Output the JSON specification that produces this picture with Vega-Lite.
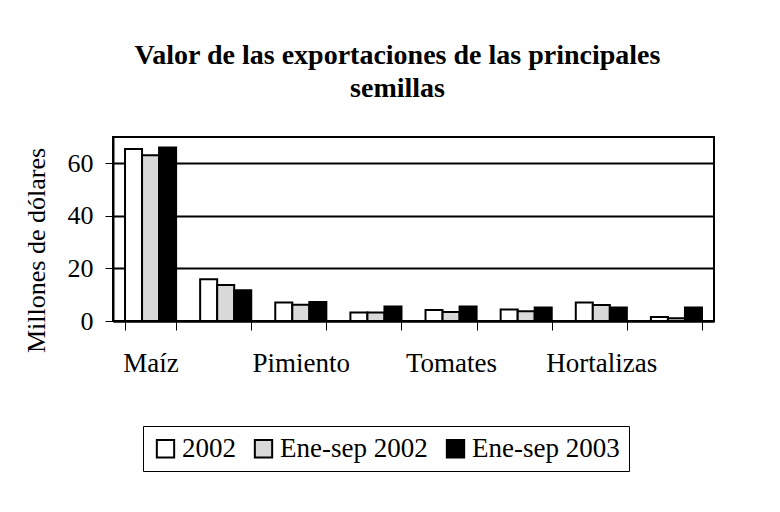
{
  "$schema": "https://vega.github.io/schema/vega-lite/v6.json",
  "width": 601,
  "height": 184,
  "autosize": {"type": "none"},
  "padding": {"left": 113, "top": 137, "right": 66, "bottom": 191},
  "background": "white",
  "title": {
    "text": ["Valor de las exportaciones de las principales", "semillas"],
    "font": "Liberation Serif",
    "fontSize": 28,
    "fontWeight": "bold",
    "color": "black",
    "lineHeight": 33,
    "anchor": "middle",
    "dx": -16,
    "offset": 34
  },
  "data": {
    "values": [
      {"cat": "Maíz", "serie": "2002", "valor": 65.4},
      {"cat": "Maíz", "serie": "Ene-sep 2002", "valor": 63.1},
      {"cat": "Maíz", "serie": "Ene-sep 2003", "valor": 66.0},
      {"cat": "Otra 1", "serie": "2002", "valor": 15.9},
      {"cat": "Otra 1", "serie": "Ene-sep 2002", "valor": 13.7},
      {"cat": "Otra 1", "serie": "Ene-sep 2003", "valor": 11.7},
      {"cat": "Pimiento", "serie": "2002", "valor": 7.0},
      {"cat": "Pimiento", "serie": "Ene-sep 2002", "valor": 6.2},
      {"cat": "Pimiento", "serie": "Ene-sep 2003", "valor": 7.2},
      {"cat": "Otra 2", "serie": "2002", "valor": 3.2},
      {"cat": "Otra 2", "serie": "Ene-sep 2002", "valor": 3.2},
      {"cat": "Otra 2", "serie": "Ene-sep 2003", "valor": 5.5},
      {"cat": "Tomates", "serie": "2002", "valor": 4.2},
      {"cat": "Tomates", "serie": "Ene-sep 2002", "valor": 3.4},
      {"cat": "Tomates", "serie": "Ene-sep 2003", "valor": 5.5},
      {"cat": "Otra 3", "serie": "2002", "valor": 4.4},
      {"cat": "Otra 3", "serie": "Ene-sep 2002", "valor": 3.7},
      {"cat": "Otra 3", "serie": "Ene-sep 2003", "valor": 5.1},
      {"cat": "Hortalizas", "serie": "2002", "valor": 7.0},
      {"cat": "Hortalizas", "serie": "Ene-sep 2002", "valor": 6.1},
      {"cat": "Hortalizas", "serie": "Ene-sep 2003", "valor": 5.1},
      {"cat": "Otra 4", "serie": "2002", "valor": 1.5},
      {"cat": "Otra 4", "serie": "Ene-sep 2002", "valor": 1.0},
      {"cat": "Otra 4", "serie": "Ene-sep 2003", "valor": 5.1}
    ]
  },
  "mark": {"type": "bar", "stroke": "black", "strokeWidth": 2},
  "encoding": {
    "x": {
      "field": "cat",
      "type": "nominal",
      "sort": null,
      "scale": {"paddingInner": 0.32, "paddingOuter": 0.16},
      "axis": {
        "title": null,
        "labelAngle": 0,
        "labelExpr": "indexof(['Maíz','Pimiento','Tomates','Hortalizas'], datum.label) >= 0 ? datum.label : ''",
        "labelFont": "Liberation Serif",
        "labelFontSize": 27,
        "labelColor": "black",
        "labelPadding": 20,
        "labelOverlap": false,
        "tickBand": "extent",
        "tickSize": 9,
        "tickColor": "black",
        "tickWidth": 1,
        "domainColor": "black",
        "domainWidth": 2
      }
    },
    "xOffset": {
      "field": "serie",
      "type": "nominal",
      "scale": {"paddingInner": 0, "paddingOuter": 0}
    },
    "y": {
      "field": "valor",
      "type": "quantitative",
      "scale": {"domain": [0, 70], "nice": false},
      "axis": {
        "title": "Millones de dólares",
        "titleFont": "Liberation Serif",
        "titleFontSize": 26,
        "titleFontWeight": "normal",
        "titleColor": "black",
        "titlePadding": 18,
        "titleY": 113,
        "values": [0, 20, 40, 60],
        "labelFont": "Liberation Serif",
        "labelFontSize": 26,
        "labelColor": "black",
        "labelPadding": 12,
        "tickSize": 8,
        "tickColor": "black",
        "tickWidth": 1,
        "domainColor": "black",
        "domainWidth": 2,
        "grid": true,
        "gridColor": "black",
        "gridWidth": 2
      }
    },
    "fill": {
      "field": "serie",
      "type": "nominal",
      "scale": {
        "domain": ["2002", "Ene-sep 2002", "Ene-sep 2003"],
        "range": ["white", "#d9d9d9", "black"]
      },
      "legend": {
        "title": null,
        "orient": "none",
        "direction": "horizontal",
        "legendX": 30,
        "legendY": 289,
        "strokeColor": "black",
        "padding": 9,
        "symbolType": "square",
        "symbolSize": 300,
        "symbolStrokeColor": "black",
        "symbolStrokeWidth": 2,
        "labelFont": "Liberation Serif",
        "labelFontSize": 27,
        "labelColor": "black",
        "labelOffset": 3,
        "columnPadding": 14
      }
    }
  },
  "config": {
    "view": {"stroke": "black", "strokeWidth": 2}
  }
}
